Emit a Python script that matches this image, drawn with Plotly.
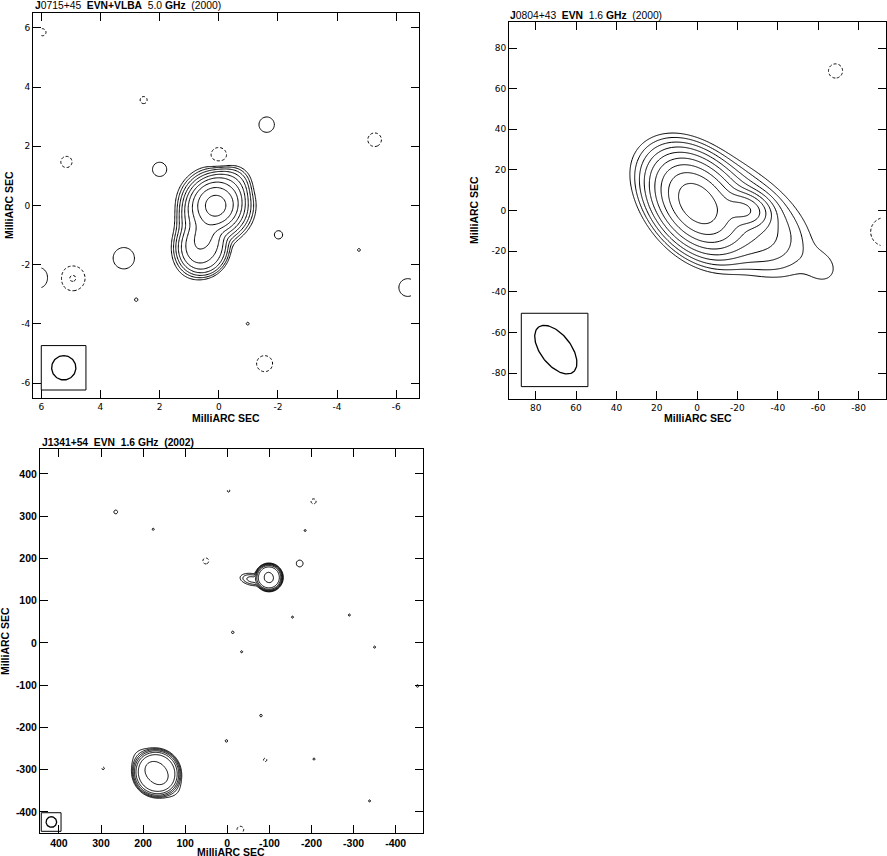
import numpy as np
import plotly.graph_objects as go

# Source components of each map:
# (RA offset, Dec offset, peak, sigma major, sigma minor, PA deg, profile index: 1 = gaussian, 2-3 = flat-top)
j0715_components = [
    (0.10, 0.0, 1.3, 0.40, 0.40, 0, 1),
    (0.55, -1.10, 0.2, 0.50, 0.35, -20, 1),
    (0.15, 0.10, 0.1, 0.93, 0.57, -45, 2),
    (0.55, -1.45, 0.1, 0.62, 0.58, 0, 2),
]
# noise peaks: (RA, Dec, contour radius, sign, strength in lowest-level units)
j0715_noise = [
    (5.96, 5.85, 0.12, -1, 1.6), (2.54, 3.56, 0.12, -1, 1.6), (-1.62, 2.73, 0.26, 1, 1.6),
    (-5.27, 2.22, 0.23, -1, 1.6), (0.0, 1.69, 0.27, -1, 1.6), (5.15, 1.47, 0.19, -1, 1.6),
    (2.0, 1.22, 0.24, 1, 1.6), (-2.02, -0.99, 0.14, 1, 1.6), (-4.74, -1.5, 0.05, 1, 1.6),
    (3.21, -1.78, 0.36, 1, 1.6), (6.10, -2.44, 0.35, 1, 1.6), (4.94, -2.46, 0.42, -1, 2.1),
    (2.79, -3.18, 0.06, 1, 1.6), (-0.98, -3.99, 0.05, 1, 1.6), (-1.55, -5.34, 0.27, -1, 1.6),
    (-6.39, -2.77, 0.30, 1, 1.6),
]
j0715_levels = [-8, 0]          # log2 of first and last contour level
j0715_map_x = [-6.5, 6.0]
j0715_map_y = [-6.5, 6.5]
j0715_beam = (5.24, -5.48, 0.41, 0.41, 0)      # centre, semi-major, semi-minor, PA
j0715_beam_box = (6.0, 4.49, -4.73, -6.23)
j0715_ticks = [6, 4, 2, 0, -2, -4, -6]

j0804_components = [
    (0.0, 3.4, 1.6, 11.0, 7.5, 40, 1),
    (-23.0, 0.5, 0.5, 6.0, 4.0, 75, 1),
    (-14.0, 0.0, 0.1, 19.0, 9.5, 58, 1),
    (-62.0, -28.0, 0.005, 6.5, 5.5, 45, 1),
]
j0804_noise = [
    (-68.6, 68.7, 3.5, -1, 1.6), (-93.0, -10.5, 7.0, -1, 1.6),
]
j0804_levels = [-8, 0]
j0804_map_x = [-91.0, 91.0]
j0804_map_y = [-92.0, 92.0]
j0804_beam = (70.0, -68.5, 14.0, 7.5, 38)
j0804_beam_box = (87.1, 54.1, -50.6, -86.7)
j0804_ticks = [80, 60, 40, 20, 0, -20, -40, -60, -80]

j1341_components = [
    (-99.0, 155.0, 0.9, 24.0, 24.0, 0, 3),
    (-99.0, 155.0, 0.2, 11.0, 9.0, 20, 1),
    (-60.0, 150.0, 0.09, 16.0, 7.5, 80, 1),
    (168.0, -308.0, 0.9, 42.0, 41.0, 45, 3),
    (168.0, -308.0, 0.3, 28.0, 17.0, 45, 1),
]
j1341_noise = [
    (265, 310, 4.5, 1, 1.6), (176, 269, 2.5, 1, 1.6), (-3, 360, 3, -1, 1.6),
    (-205, 335, 6, -1, 1.6), (-185, 266, 2.5, 1, 1.6), (51, 194, 7, -1, 1.6),
    (-172, 188, 8, 1, 1.6), (-155, 61, 2.5, 1, 1.6), (-290, 66, 2.5, 1, 1.6),
    (-13, 25, 3, 1, 1.6), (-34, -21, 2.5, 1, 1.6), (-350, -10, 2.5, 1, 1.6),
    (-452, -102, 3, 1, 1.6), (-80, -172, 3, 1, 1.6), (2, -232, 3, 1, 1.6),
    (-90, -277, 4, -1, 1.6), (-206, -275, 2.5, 1, 1.6), (295, -297, 3, -1, 1.6),
    (-338, -374, 2.5, 1, 1.6), (-31, -442, 8, -1, 1.6),
]
j1341_levels = [-6, 0]
j1341_map_x = [-462.0, 442.0]
j1341_map_y = [-447.0, 455.0]
j1341_beam = (418.0, -424.0, 12.5, 12.5, 0)
j1341_beam_box = (442.0, 395.0, -402.0, -446.0)
j1341_ticks = [400, 300, 200, 100, 0, -100, -200, -300, -400]

titles = [
    "<b>J</b>0715+45  <b>EVN+VLBA</b>  5.0 <b>GHz</b>  (2000)",
    "<b>J</b>0804+43  <b>EVN</b>  1.6 <b>GHz</b>  (2000)",
    "<b>J1341+54  EVN  1.6 GHz  (2002)</b>",
]
axis_label = "MilliARC SEC"


def build_map(components, noise, levels, mx, my, n):
    xs = np.linspace(mx[0], mx[1], n)
    ys = np.linspace(my[0], my[1], n)
    xx, yy = np.meshgrid(xs, ys)
    f = np.zeros_like(xx)
    for ra, dec, peak, smaj, smin, pa, p in components:
        t = np.radians(pa)
        dx, dy = xx - ra, yy - dec
        u = dx * np.sin(t) + dy * np.cos(t)
        v = dx * np.cos(t) - dy * np.sin(t)
        f += peak * np.exp(-0.5 * ((u / smaj) ** 2 + (v / smin) ** 2) ** p)
    lowest = 2.0 ** levels[0]
    for ra, dec, r, sign, k in noise:
        sig = r / np.sqrt(2 * np.log(k))
        f += sign * k * lowest * np.exp(-0.5 * ((xx - ra) ** 2 + (yy - dec) ** 2) / sig ** 2)
    floor = levels[0] - 2
    zpos = np.round(np.log2(np.clip(f, 2.0 ** floor, None)), 2)
    zneg = np.round(np.log2(np.clip(-f, 2.0 ** floor, None)), 2)
    return xs, ys, zpos, zneg


def beam_xy(beam):
    cx, cy, a, b, pa = beam
    t = np.linspace(0, 2 * np.pi, 120)
    p = np.radians(pa)
    u, v = a * np.cos(t), b * np.sin(t)
    return cx + u * np.sin(p) + v * np.cos(p), cy + u * np.cos(p) - v * np.sin(p)


fig = go.Figure()
panels = [
    (j0715_components, j0715_noise, j0715_levels, j0715_map_x, j0715_map_y, 320, j0715_beam, j0715_beam_box, "x", "y"),
    (j0804_components, j0804_noise, j0804_levels, j0804_map_x, j0804_map_y, 360, j0804_beam, j0804_beam_box, "x2", "y2"),
    (j1341_components, j1341_noise, j1341_levels, j1341_map_x, j1341_map_y, 500, j1341_beam, j1341_beam_box, "x3", "y3"),
]

for comps, noise, levels, mx, my, n, beam, box, xa, ya in panels:
    xs, ys, zpos, zneg = build_map(comps, noise, levels, mx, my, n)
    for z, dash in [(zpos, "solid"), (zneg, "3px,2px")]:
        fig.add_trace(go.Contour(
            x=xs, y=ys, z=z, autocontour=False,
            contours=dict(start=levels[0], end=levels[1], size=1, coloring="none"),
            line=dict(color="black", width=1, dash=dash, smoothing=1),
            showscale=False, hoverinfo="skip", xaxis=xa, yaxis=ya))
    bx, by = beam_xy(beam)
    fig.add_trace(go.Scatter(x=bx, y=by, mode="lines", line=dict(color="black", width=1.3),
                             hoverinfo="skip", xaxis=xa, yaxis=ya))
    fig.add_shape(type="rect", x0=box[0], x1=box[1], y0=box[2], y1=box[3],
                  xref=xa, yref=ya, line=dict(color="black", width=1))

W, H = 887, 856
FONT = "Liberation Sans, Arial, sans-serif"
tickfont = dict(family="DejaVu Sans, sans-serif", size=9, color="black")


def dom(a, b, total, flip=False):
    if flip:
        return [1 - b / total, 1 - a / total]
    return [a / total, b / total]


def ax(domain, rng, ticks, anchor, bold=False):
    tf = dict(tickfont)
    if bold:
        tf.update(family=FONT, weight="bold", size=10.5)
    return dict(domain=domain, range=rng, tickvals=ticks, ticktext=[str(t) for t in ticks],
                anchor=anchor, tickfont=tf, automargin=False,
                showline=True, linecolor="black", linewidth=1, mirror="ticks",
                ticks="inside", ticklen=8, tickcolor="black",
                showgrid=False, zeroline=False)


fig.update_layout(
    width=W, height=H, margin=dict(l=0, r=0, t=0, b=0, autoexpand=False),
    paper_bgcolor="white", plot_bgcolor="white", showlegend=False,
    xaxis=ax(dom(33, 419, W), [6.28, -6.77], j0715_ticks, "y"),
    yaxis=ax(dom(13, 398, H, True), [-6.5, 6.5], j0715_ticks, "x"),
    xaxis2=ax(dom(509, 886, W), [93.2, -93.6], j0804_ticks, "y2"),
    yaxis2=ax(dom(22, 399, H, True), [-92.8, 92.8], j0804_ticks, "x2"),
    xaxis3=ax(dom(40, 423, W), [445, -465], j1341_ticks, "y3", bold=True),
    yaxis3=ax(dom(449, 833, H, True), [-450, 459], j1341_ticks, "x3", bold=True),
)

# panel titles
title_pos = [(33, 5), (508, 15), (40, 442)]
for text, (px, py) in zip(titles, title_pos):
    fig.add_annotation(text=text, x=px / W, y=1 - py / H, xref="paper", yref="paper",
                       xanchor="left", yanchor="middle", showarrow=False,
                       font=dict(family=FONT, size=10.3, color="black"))

# axis titles (x centre, y centre, rotation)
label_pos = [(226, 418, 0), (9, 205, -90), (698, 418, 0), (474, 210, -90),
             (231, 851.5, 0), (5, 641, -90)]
for px, py, rot in label_pos:
    fig.add_annotation(text="<b>" + axis_label + "</b>", x=px / W, y=1 - py / H,
                       xref="paper", yref="paper", xanchor="center", yanchor="middle",
                       textangle=rot, showarrow=False, borderpad=0,
                       font=dict(family=FONT, size=10.5, color="black"))

# drop the page's default body margin so the figure sits at the window corner
fig.write_html("out.html", config={"displayModeBar": False},
               post_script="document.body.style.margin='0px';")
